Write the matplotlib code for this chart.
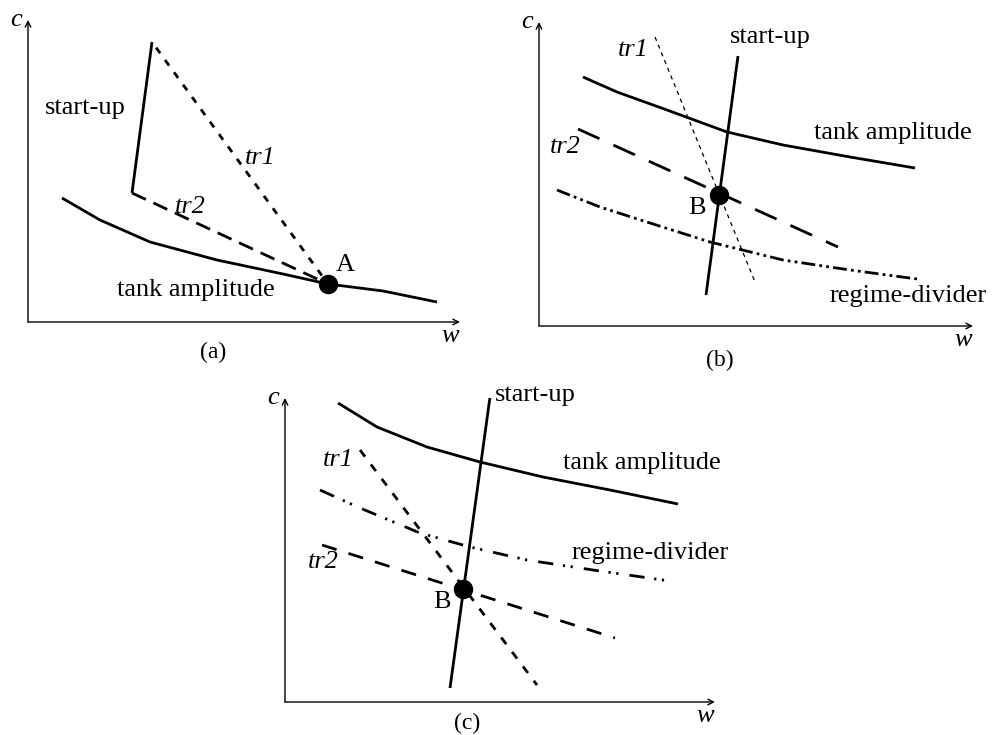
import matplotlib.pyplot as plt

plt.rcParams['font.family'] = ['Liberation Serif', 'DejaVu Serif']
plt.rcParams['lines.scale_dashes'] = False

FIG_W, FIG_H = 992, 735

# Panel (a): curves in the w-c plane
a_startup_w = [124, 104]
a_startup_c = [280, 129]
a_tank_w = [34, 72, 122, 189, 255, 300, 355, 409]
a_tank_c = [124, 102, 80, 62, 48, 38, 31, 20]
a_tr1_w = [124, 300]
a_tr1_c = [280, 38]
a_tr2_w = [104, 300]
a_tr2_c = [129, 38]
a_point = (300, 38)

# Panel (b)
b_startup_w = [199, 167]
b_startup_c = [270, 31]
b_tank_w = [44, 78, 128, 188, 244, 311, 376]
b_tank_c = [249, 234, 216, 194, 181, 169, 158]
b_tr1_w = [116, 216]
b_tr1_c = [289, 44]
b_tr2_w = [39, 299]
b_tr2_c = [197, 79]
b_regime_w = [18, 61, 111, 171, 244, 311, 378]
b_regime_c = [136, 119, 103, 84, 66, 56, 47]
b_point = (180, 131)

# Panel (c)
c_startup_w = [205, 165]
c_startup_c = [305, 14]
c_tank_w = [53, 92, 142, 195, 258, 325, 393]
c_tank_c = [299, 275, 255, 240, 225, 212, 198]
c_tr1_w = [75, 252]
c_tr1_c = [252, 17]
c_tr2_w = [37, 330]
c_tr2_c = [157, 64]
c_regime_w = [35, 75, 135, 185, 242, 308, 385]
c_regime_c = [212, 194, 169, 155, 142, 132, 121]
c_point = (178, 113)

LW = 2.0
SOLID = dict(color='black', lw=LW, solid_capstyle='butt')
FS = 19


def make_axes(fig, x0, y0, width, height):
    # origin and extent given in figure pixels
    ax = fig.add_axes([x0 / FIG_W, (FIG_H - y0) / FIG_H,
                       width / FIG_W, height / FIG_H])
    ax.set_xlim(0, width)
    ax.set_ylim(0, height)
    ax.axis('off')
    arrow = dict(arrowstyle='->', lw=1.0, color='black',
                 shrinkA=0, shrinkB=0, mutation_scale=10)
    ax.annotate('', xy=(width, 0), xytext=(0, 0),
                arrowprops=arrow, annotation_clip=False)
    ax.annotate('', xy=(0, height), xytext=(0, 0),
                arrowprops=arrow, annotation_clip=False)
    ax.text(-6, height, 'c', style='italic', fontsize=FS,
            ha='right', va='center')
    ax.text(width - 10, -14, 'w', style='italic', fontsize=FS,
            ha='center', va='center')
    return ax


def dashed(ax, w, c, pattern, lw=LW):
    ax.plot(w, c, color='black', lw=lw, linestyle=pattern,
            dash_capstyle='butt', solid_joinstyle='round')


def dot(ax, p):
    ax.plot(*p, 'o', color='black', ms=13, zorder=5)


def label(ax, w, c, s, italic=False, size=FS):
    ax.text(w, c, s, fontsize=size, style='italic' if italic else 'normal',
            ha='center', va='center')


fig = plt.figure(figsize=(FIG_W / 100, FIG_H / 100), dpi=100)

# (a)
ax = make_axes(fig, 28, 322, 432, 302)
ax.plot(a_startup_w, a_startup_c, **SOLID)
ax.plot(a_tank_w, a_tank_c, **SOLID)
dashed(ax, a_tr1_w, a_tr1_c, (6, (5, 6)))
dashed(ax, a_tr2_w, a_tr2_c, (0, (11, 6)))
dot(ax, a_point)
label(ax, 57, 214, 'start-up')
label(ax, 232, 164, 'tr1', italic=True)
label(ax, 162, 115, 'tr2', italic=True)
label(ax, 168, 32, 'tank amplitude')
label(ax, 317, 57, 'A')
label(ax, 185, -30, '(a)', size=FS - 2)

# (b)
ax = make_axes(fig, 539, 326, 434, 304)
ax.plot(b_startup_w, b_startup_c, **SOLID)
ax.plot(b_tank_w, b_tank_c, **SOLID)
dashed(ax, b_tr1_w, b_tr1_c, (0, (3, 3)), lw=0.9)
dashed(ax, b_tr2_w, b_tr2_c, (0, (17, 11)))
dashed(ax, b_regime_w, b_regime_c, (0, (10, 3, 2, 3, 2, 3)))
dot(ax, b_point)
label(ax, 231, 289, 'start-up')
label(ax, 94, 276, 'tr1', italic=True)
label(ax, 26, 179, 'tr2', italic=True)
label(ax, 354, 193, 'tank amplitude')
label(ax, 369, 30, 'regime-divider')
label(ax, 158, 118, 'B')
label(ax, 181, -34, '(b)', size=FS - 2)

# (c)
ax = make_axes(fig, 285, 702, 430, 304)
ax.plot(c_startup_w, c_startup_c, **SOLID)
ax.plot(c_tank_w, c_tank_c, **SOLID)
dashed(ax, c_tr1_w, c_tr1_c, (0, (6, 7)))
dashed(ax, c_tr2_w, c_tr2_c, (0, (11, 9)))
dashed(ax, c_regime_w, c_regime_c, (0, (11, 7, 1.6, 4, 1.6, 8)))
dot(ax, c_point)
label(ax, 250, 307, 'start-up')
label(ax, 53, 242, 'tr1', italic=True)
label(ax, 38, 140, 'tr2', italic=True)
label(ax, 357, 239, 'tank amplitude')
label(ax, 365, 149, 'regime-divider')
label(ax, 157, 100, 'B')
label(ax, 182, -21, '(c)', size=FS - 2)

fig.savefig('out.png', dpi=100)
